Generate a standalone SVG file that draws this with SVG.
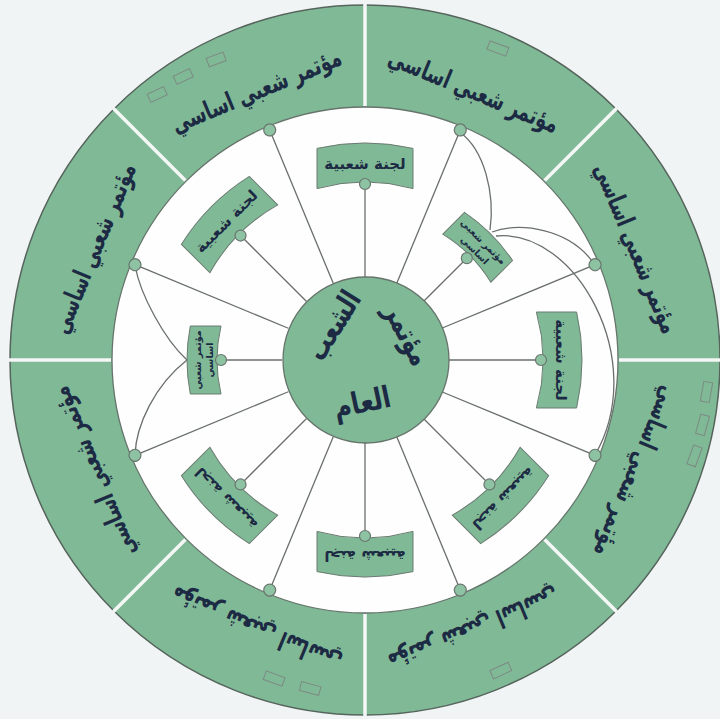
<svg xmlns="http://www.w3.org/2000/svg" width="720" height="719" viewBox="0 0 720 719">
<style>
.ring{fill:#80b996;stroke:#55645c;stroke-width:1.5}
.inner{fill:#fdfefd;stroke:#66746c;stroke-width:1.3}
.div{stroke:#f4f7f6;stroke-width:3.5}
.sp{stroke:#6a6f6c;stroke-width:1.3;fill:none}
.dot{fill:#8dc3a2;stroke:#6a766f;stroke-width:1.2}
.box{fill:#80b996;stroke:#6b7a72;stroke-width:1}
.t{font-family:"DejaVu Sans",sans-serif;font-weight:bold;fill:#1c2a44;text-anchor:middle;dominant-baseline:central}
.st{font-size:26px}
.bt{font-size:15px}
.ct{font-size:9.5px}
.mt{font-size:30px}
.deco{fill:none;stroke:#7d8a84;stroke-width:1}
</style>
<defs>
<path id="lb" d="M211.6,-48 A217,217 0 0 1 211.6,48 L171.4,48 A178,178 0 0 0 171.4,-48 Z"/>
<path id="cb" d="M174.7,-34 A178,178 0 0 1 174.7,34 L144,34 A148,148 0 0 0 144,-34 Z"/>
</defs>
<rect width="720" height="719" fill="#f1f4f5"/>
<g id="outer-ring">
<circle class="ring" cx="365" cy="360" r="355"/>
<circle class="inner" cx="365" cy="360" r="253"/>
<g class="div" transform="translate(365,360)">
<line x1="254" x2="356" transform="rotate(0)"/>
<line x1="254" x2="356" transform="rotate(45)"/>
<line x1="254" x2="356" transform="rotate(90)"/>
<line x1="254" x2="356" transform="rotate(135)"/>
<line x1="254" x2="356" transform="rotate(180)"/>
<line x1="254" x2="356" transform="rotate(225)"/>
<line x1="254" x2="356" transform="rotate(270)"/>
<line x1="254" x2="356" transform="rotate(315)"/>
</g>
<g class="deco">
<rect x="-9" y="-4" width="18" height="9" transform="translate(157,94) rotate(-25)"/>
<rect x="-9" y="-4" width="18" height="9" transform="translate(183,76) rotate(-25)"/>
<rect x="-9" y="-4" width="18" height="9" transform="translate(216,59) rotate(-20)"/>
<rect x="-10" y="-4" width="20" height="9" transform="translate(498,48) rotate(20)"/>
<rect x="-10" y="-4" width="20" height="9" transform="translate(707,392) rotate(100)"/>
<rect x="-10" y="-4" width="20" height="9" transform="translate(703,425) rotate(105)"/>
<rect x="-10" y="-4" width="20" height="9" transform="translate(695,456) rotate(110)"/>
<rect x="-10" y="-4" width="20" height="9" transform="translate(501,671) rotate(155)"/>
<rect x="-10" y="-4" width="20" height="9" transform="translate(274,679) rotate(200)"/>
<rect x="-10" y="-4" width="20" height="9" transform="translate(310,689) rotate(195)"/>
</g>
</g>
<g id="sector-1"><text class="t st" transform="translate(474,90) rotate(22.5) scale(0.68,1)">مؤتمر شعبي اساسي</text></g>
<g id="sector-2"><text class="t st" transform="translate(256,90) rotate(-22.5) scale(0.68,1)">مؤتمر شعبي اساسي</text></g>
<g id="sector-3"><text class="t st" transform="translate(93,248) rotate(-67.5) scale(0.68,1)">مؤتمر شعبي اساسي</text></g>
<g id="sector-4"><text class="t st" transform="translate(93,472) rotate(247.5) scale(0.68,1)">مؤتمر شعبي اساسي</text></g>
<g id="sector-5"><text class="t st" transform="translate(256,630) rotate(202.5) scale(0.68,1)">مؤتمر شعبي اساسي</text></g>
<g id="sector-6"><text class="t st" transform="translate(474,630) rotate(157.5) scale(0.68,1)">مؤتمر شعبي اساسي</text></g>
<g id="sector-7"><text class="t st" transform="translate(637,472) rotate(112.5) scale(0.68,1)">مؤتمر شعبي اساسي</text></g>
<g id="sector-8"><text class="t st" transform="translate(637,248) rotate(67.5) scale(0.68,1)">مؤتمر شعبي اساسي</text></g>
<g id="connectors" class="sp">
<g transform="translate(365,360)">
<line x1="83" x2="249" transform="rotate(-67.5)"/>
<line x1="83" x2="249" transform="rotate(-112.5)"/>
<line x1="83" x2="249" transform="rotate(-157.5)"/>
<line x1="83" x2="249" transform="rotate(157.5)"/>
<line x1="83" x2="249" transform="rotate(112.5)"/>
<line x1="83" x2="249" transform="rotate(67.5)"/>
<line x1="83" x2="249" transform="rotate(22.5)"/>
<line x1="83" x2="249" transform="rotate(-22.5)"/>
<line x1="83" x2="176" transform="rotate(-90)"/>
<line x1="83" x2="176" transform="rotate(-135)"/>
<line x1="83" x2="176" transform="rotate(0)"/>
<line x1="83" x2="176" transform="rotate(45)"/>
<line x1="83" x2="176" transform="rotate(90)"/>
<line x1="83" x2="176" transform="rotate(135)"/>
<line x1="83" x2="144" transform="rotate(-45)"/>
<line x1="83" x2="144" transform="rotate(180)"/>
</g>
<path d="M459.5,132 C485,150 495,195 490,230"/>
<path d="M492,232 C520,222 570,228 595,265"/>
<path d="M496,236 C575,228 650,360 595,455"/>
<path d="M135,265 C140,295 165,340 187,360"/>
<path d="M135,455 C136,425 155,385 187,360"/>
</g>
<g id="center">
<circle cx="366" cy="360" r="83" fill="#80b996" stroke="#66746c" stroke-width="1.3"/>
<text class="t mt" transform="translate(408,334) rotate(62) scale(0.75,1)">مؤتمر</text>
<text class="t mt" transform="translate(333,325) rotate(-58) scale(0.75,1)">الشعب</text>
<text class="t mt" transform="translate(362,402) rotate(-12) scale(0.8,1)">العام</text>
</g>
<g id="box-top" transform="translate(365,360) rotate(-90)"><use href="#lb" class="box"/><text class="t bt" transform="translate(196,0) rotate(90)">لجنة شعبية</text></g>
<g id="box-upper-left" transform="translate(365,360) rotate(-135)"><use href="#lb" class="box"/><text class="t bt" transform="translate(196,0) rotate(90)">لجنة شعبية</text></g>
<g id="box-right" transform="translate(365,360) rotate(0)"><use href="#lb" class="box"/><text class="t bt" transform="translate(196,0) rotate(90)">لجنة شعبية</text></g>
<g id="box-lower-right" transform="translate(365,360) rotate(45)"><use href="#lb" class="box"/><text class="t bt" transform="translate(196,0) rotate(90)">لجنة شعبية</text></g>
<g id="box-bottom" transform="translate(365,360) rotate(90)"><use href="#lb" class="box"/><text class="t bt" transform="translate(196,0) rotate(90)">لجنة شعبية</text></g>
<g id="box-lower-left" transform="translate(365,360) rotate(135)"><use href="#lb" class="box"/><text class="t bt" transform="translate(196,0) rotate(90)">لجنة شعبية</text></g>
<g id="box-upper-right" transform="translate(365,360) rotate(-45)"><use href="#cb" class="box"/><text class="t ct" transform="translate(162,0) rotate(90)"><tspan x="0" y="-6">مؤتمر شعبي</tspan><tspan x="0" y="6">اساسي</tspan></text></g>
<g id="box-left" transform="translate(365,360) rotate(180)"><use href="#cb" class="box"/><text class="t ct" transform="translate(162,0) rotate(90)"><tspan x="0" y="-6">مؤتمر شعبي</tspan><tspan x="0" y="6">اساسي</tspan></text></g>
<g id="dots" transform="translate(365,360)">
<circle class="dot" r="6" cx="249" transform="rotate(-67.5)"/>
<circle class="dot" r="6" cx="249" transform="rotate(-112.5)"/>
<circle class="dot" r="6" cx="249" transform="rotate(-157.5)"/>
<circle class="dot" r="6" cx="249" transform="rotate(157.5)"/>
<circle class="dot" r="6" cx="249" transform="rotate(112.5)"/>
<circle class="dot" r="6" cx="249" transform="rotate(67.5)"/>
<circle class="dot" r="6" cx="249" transform="rotate(22.5)"/>
<circle class="dot" r="6" cx="249" transform="rotate(-22.5)"/>
<circle class="dot" r="5.5" cx="176" transform="rotate(-90)"/>
<circle class="dot" r="5.5" cx="176" transform="rotate(-135)"/>
<circle class="dot" r="5.5" cx="176" transform="rotate(0)"/>
<circle class="dot" r="5.5" cx="176" transform="rotate(45)"/>
<circle class="dot" r="5.5" cx="176" transform="rotate(90)"/>
<circle class="dot" r="5.5" cx="176" transform="rotate(135)"/>
<circle class="dot" r="5.5" cx="144" transform="rotate(-45)"/>
<circle class="dot" r="5.5" cx="144" transform="rotate(180)"/>
</g>
</svg>
